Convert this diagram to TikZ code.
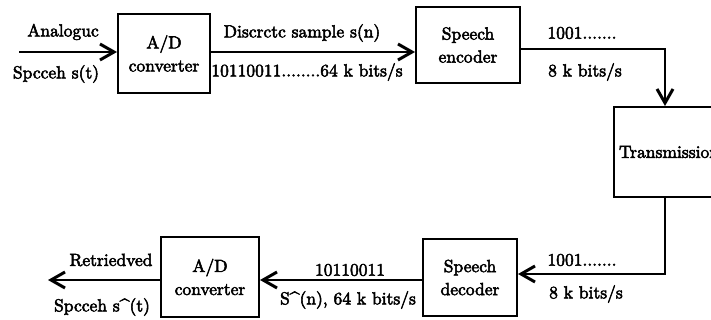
\documentclass[tikz,border=0pt]{standalone}
\usepackage{fontspec}
\newfontfamily\dfont{lmroman10-regular.otf}[FakeBold=3]
\usetikzlibrary{arrows.meta}
\begin{document}
\begin{tikzpicture}[x=1pt,y=-1pt,
  box/.style={draw,line width=2pt,inner sep=0pt,align=center,font=\dfont\fontsize{17.5}{23}\selectfont},
  lbl/.style={inner sep=0pt,font=\dfont\fontsize{17.5}{22}\selectfont},
  conn/.style={line width=2pt,-{Straight Barb[length=14pt,width=16pt,line width=3pt]}}]
\useasboundingbox (0,0) rectangle (711,320);
\clip (0,0) rectangle (711,320);
% boxes
\node[box,minimum width=92pt,minimum height=79pt] (ad1) at (164,53.5) {A/D\\converter};
\node[box,minimum width=104pt,minimum height=76pt] (enc) at (468,45) {Speech\\encoder};
\node[box,minimum width=110pt,minimum height=90pt] (trans) at (669,152) {Transmission};
\node[box,minimum width=94pt,minimum height=77pt] (dec) at (470,277.5) {Speech\\decoder};
\node[box,minimum width=98pt,minimum height=80pt] (ad2) at (210,277) {A/D\\converter};
% helper coordinates
\coordinate (src) at (19,52);
\coordinate (encline) at (0,49);
\coordinate (tcol) at (665,0);
\coordinate (decline) at (0,274);
\coordinate (lowline) at (0,280);
\coordinate (out) at (48,280);
% connectors
\draw[conn] (src) -- (src -| ad1.west);
\draw[conn] (ad1.east |- src) -- (enc.west |- src);
\draw[conn] (enc.east |- encline) -| (tcol |- trans.north);
\draw[conn] (tcol |- trans.south) |- (dec.east |- decline);
\draw[conn] (dec.west |- lowline) -- (ad2.east |- lowline);
\draw[conn] (ad2.west |- lowline) -- (out);
% labels
\node[lbl] (l1) at (63,32) {Analoguc};
\node[lbl] (l2) at (56,74) {Spcceh s(t)};
\node[lbl] (l3) at (302,33) {Discrctc sample s(n)};
\node[lbl] (l4) at (307,72) {10110011........64 k bits/s};
\node[lbl] (l5) at (582,33) {1001.......};
\node[lbl] (l6) at (585,72) {8 k bits/s};
\node[lbl] (l7) at (582,260) {1001.......};
\node[lbl] (l8) at (586,294) {8 k bits/s};
\node[lbl] (l9) at (350,270) {10110011};
\node[lbl] (l10) at (348,300) {S\^{}(n), 64 k bits/s};
\node[lbl] (l11) at (111,260) {Retriedved};
\node[lbl] (l12) at (102,307) {Spcceh s\^{}(t)};
\end{tikzpicture}
\end{document}
